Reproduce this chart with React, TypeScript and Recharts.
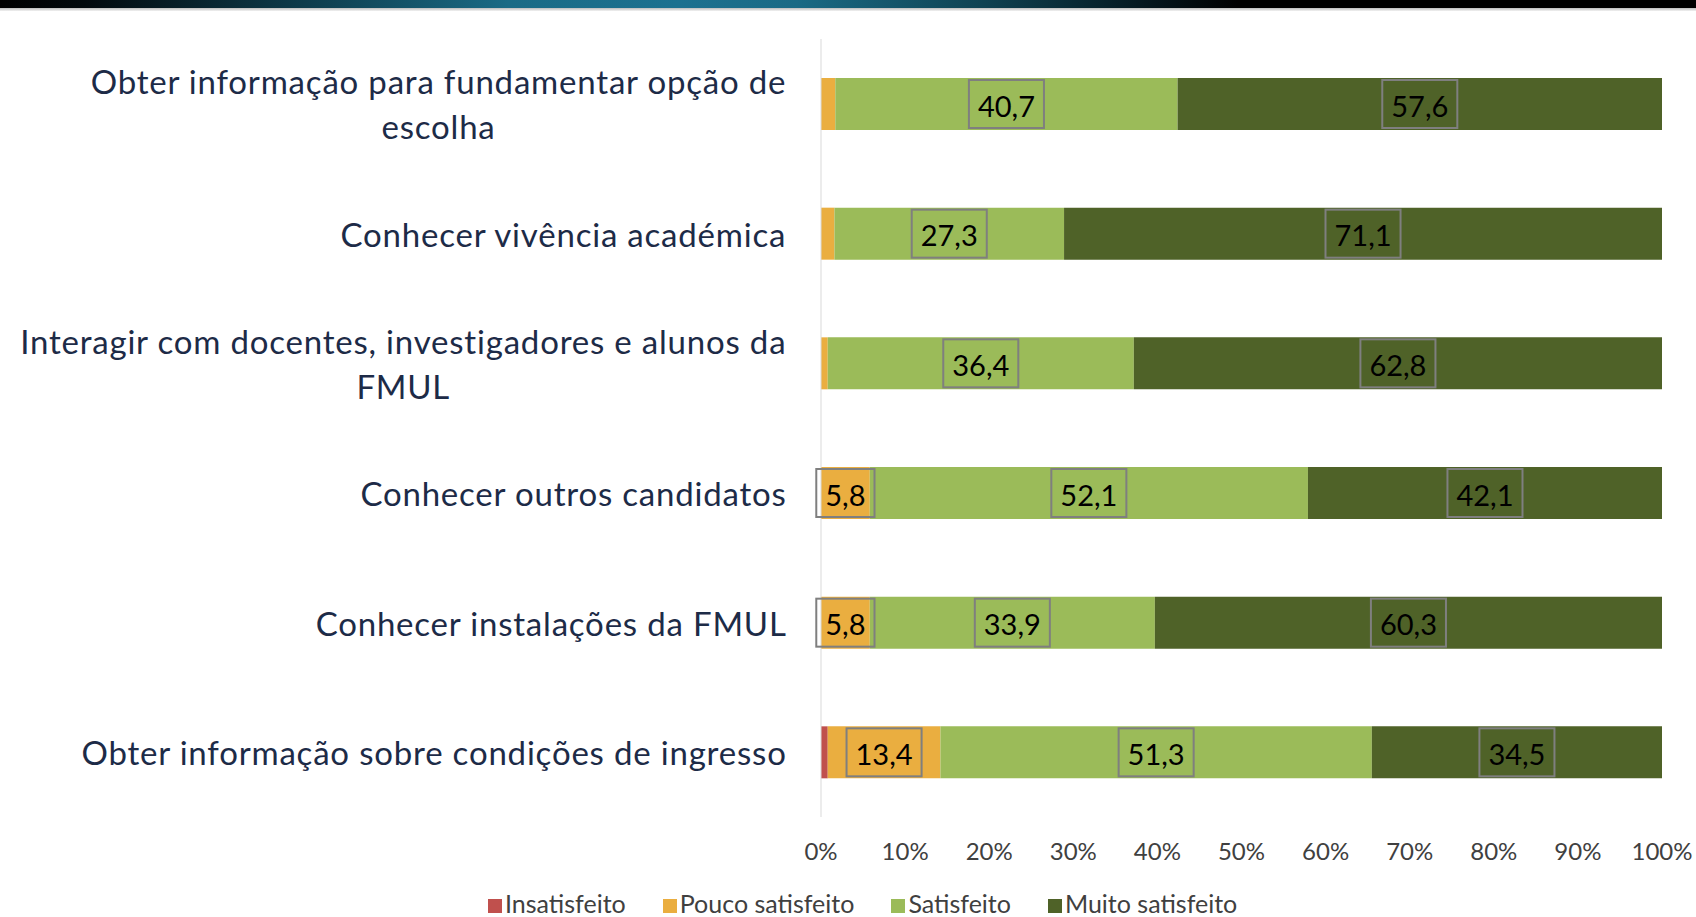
import React from 'react';
import { BarChart, Bar, XAxis, YAxis, Legend, LabelList } from 'recharts';

const categories = [
  'Obter informação para fundamentar opção de escolha',
  'Conhecer vivência académica',
  'Interagir com docentes, investigadores e alunos da FMUL',
  'Conhecer outros candidatos',
  'Conhecer instalações da FMUL',
  'Obter informação sobre condições de ingresso',
];
const insatisfeito = [0, 0, 0, 0, 0, 0.8];
const poucoSatisfeito = [1.7, 1.6, 0.8, 5.8, 5.8, 13.4];
const satisfeito = [40.7, 27.3, 36.4, 52.1, 33.9, 51.3];
const muitoSatisfeito = [57.6, 71.1, 62.8, 42.1, 60.3, 34.5];
const seriesNames = ['Insatisfeito', 'Pouco satisfeito', 'Satisfeito', 'Muito satisfeito'];
const seriesKeys = ['ins', 'pouco', 'sat', 'muito'];
const seriesColors = ['#C0504D', '#EAAE40', '#9BBB59', '#4F6228'];
const xTicks = [0, 10, 20, 30, 40, 50, 60, 70, 80, 90, 100];

const data = categories.map((c, i) => ({
  category: c,
  ins: insatisfeito[i],
  pouco: poucoSatisfeito[i],
  sat: satisfeito[i],
  muito: muitoSatisfeito[i],
}));

const FONT = 'Lato, "Open Sans", sans-serif';
const CAT_SIZE = 33;
const CAT_LS = 0.8;
const TICK_SIZE = 24;
const LABEL_SIZE = 29;
const LEGEND_SIZE = 25;

let ctx: CanvasRenderingContext2D | null = null;
function measure(text: string, size: number, ls = 0): number {
  if (!ctx) {
    const c = document.createElement('canvas');
    ctx = c.getContext('2d');
  }
  if (!ctx) return text.length * size * 0.5;
  ctx.font = `${size}px Lato`;
  return ctx.measureText(text).width + ls * text.length;
}

function wrap(text: string, size: number, maxW: number, ls: number): string[] {
  const words = text.split(' ');
  const lines: string[] = [];
  let cur = '';
  for (const w of words) {
    const t = cur ? cur + ' ' + w : w;
    if (cur && measure(t, size, ls) > maxW) {
      lines.push(cur);
      cur = w;
    } else cur = t;
  }
  if (cur) lines.push(cur);
  return lines;
}

const CategoryTick = (props: any) => {
  const { x, y, payload } = props;
  const lines = wrap(String(payload.value), CAT_SIZE, 800, CAT_LS);
  const right = x - 34;
  const blockW = Math.max(...lines.map((l) => measure(l, CAT_SIZE, CAT_LS)));
  const cx = right - blockW / 2;
  const lh = 45;
  return (
    <g>
      {lines.map((l, i) => (
        <text
          key={i}
          x={cx}
          y={y + (i - (lines.length - 1) / 2) * lh}
          textAnchor="middle"
          dominantBaseline="central"
          fontFamily={FONT}
          fontSize={CAT_SIZE}
          letterSpacing={CAT_LS}
          fill="#1d2b47"
        >
          {l}
        </text>
      ))}
    </g>
  );
};

const PercentTick = (props: any) => {
  const { x, y, payload } = props;
  return (
    <text
      x={x}
      y={y + 33}
      textAnchor="middle"
      dominantBaseline="central"
      fontFamily={FONT}
      fontSize={TICK_SIZE}
      fill="#404040"
    >
      {`${payload.value}%`}
    </text>
  );
};

const BoxLabel = (props: any) => {
  const { x, y, width, height, value } = props;
  if (value == null || value < 5) return null;
  const txt = String(value).replace('.', ',');
  const tw = measure(txt, LABEL_SIZE);
  const bw = tw + 18;
  const bh = 48;
  const cx = x + width / 2;
  const cy = y + height / 2;
  return (
    <g>
      <rect x={cx - bw / 2} y={cy - bh / 2} width={bw} height={bh} fill="none" stroke="#7f7f7f" strokeWidth={2} />
      <text
        x={cx}
        y={cy + 1}
        textAnchor="middle"
        dominantBaseline="central"
        fontFamily={FONT}
        fontSize={LABEL_SIZE}
        fill="#000000"
      >
        {txt}
      </text>
    </g>
  );
};

const LegendContent = () => (
  <div
    style={{
      display: 'flex',
      alignItems: 'flex-start',
      boxSizing: 'border-box',
      height: 36,
      paddingLeft: 488,
      paddingTop: 10,
      gap: 37,
      fontFamily: FONT,
      fontSize: LEGEND_SIZE,
      color: '#404040',
    }}
  >
    {seriesNames.map((n, i) => (
      <div key={n} style={{ display: 'flex', alignItems: 'flex-end', height: 25 }}>
        <span
          style={{
            width: 14,
            height: 14,
            background: seriesColors[i],
            display: 'inline-block',
            marginRight: 3,
            marginBottom: 3,
          }}
        />
        <span style={{ lineHeight: '25px', whiteSpace: 'nowrap' }}>{n}</span>
      </div>
    ))}
  </div>
);

export default function App() {
  return (
    <div style={{ position: 'absolute', left: 0, top: 0, width: 1696, height: 917, background: '#ffffff', overflow: 'hidden' }}>
      <div
        style={{
          position: 'absolute',
          left: 0,
          top: 0,
          width: 1696,
          height: 8,
          background:
            'linear-gradient(to right, #000000 0%, #02090d 5%, #0e3c4c 18%, #1a6b86 30%, #1c7190 40%, #1a6a85 47%, #0f4252 58%, #04151c 68%, #000000 73%, #000000 100%)',
        }}
      />
      <div
        style={{
          position: 'absolute',
          left: 0,
          top: 8,
          width: 1696,
          height: 3,
          background: 'linear-gradient(to bottom, #bdbdbd, #f2f2f2)',
        }}
      />
      <BarChart
        width={1696}
        height={917}
        data={data}
        layout="vertical"
        margin={{ top: 39, right: 34, bottom: 0, left: 0 }}
        barSize={52}
      >
        <XAxis
          type="number"
          domain={[0, 100]}
          ticks={xTicks}
          axisLine={false}
          tickLine={false}
          tickSize={0}
          tickMargin={0}
          height={64}
          tick={<PercentTick />}
          interval={0}
        />
        <YAxis
          type="category"
          dataKey="category"
          width={821}
          axisLine={{ stroke: '#d9d9d9', strokeWidth: 1 }}
          tickLine={false}
          tickSize={0}
          tickMargin={0}
          tick={<CategoryTick />}
          interval={0}
        />
        <Legend verticalAlign="bottom" height={36} content={<LegendContent />} />
        {seriesKeys.map((k, i) => (
          <Bar key={k} dataKey={k} name={seriesNames[i]} stackId="a" fill={seriesColors[i]} isAnimationActive={false}>
            <LabelList dataKey={k} content={<BoxLabel />} />
          </Bar>
        ))}
      </BarChart>
    </div>
  );
}
